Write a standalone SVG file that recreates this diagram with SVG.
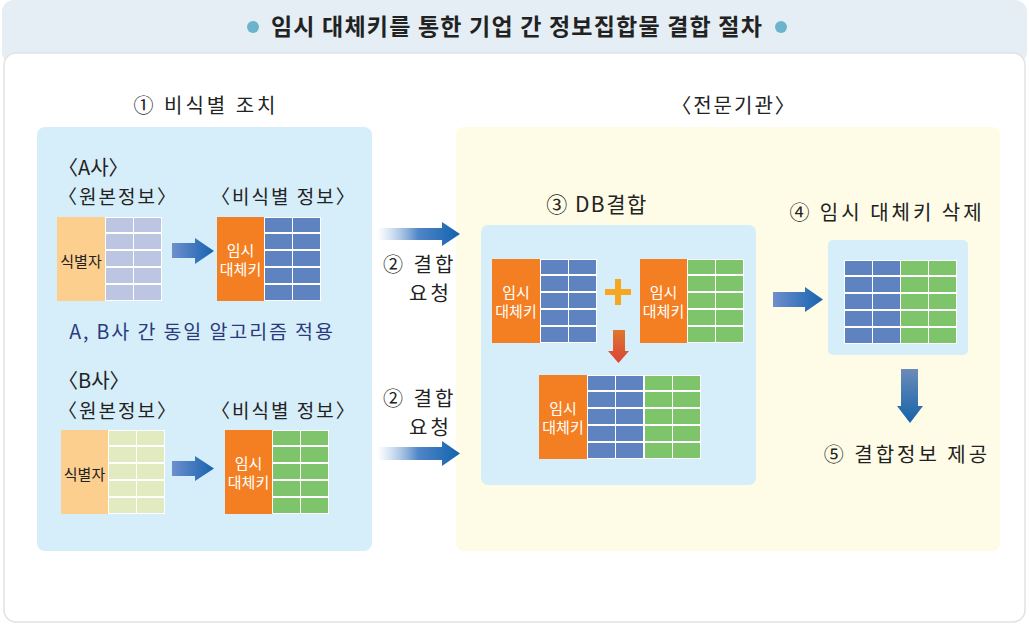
<svg xmlns="http://www.w3.org/2000/svg" xmlns:xlink="http://www.w3.org/1999/xlink" width="1029" height="624" viewBox="0 0 1029 624">
<style>
text{font-family:"Noto Sans CJK KR","Noto Sans",sans-serif;fill:#222}
.lbl{font-size:20px;letter-spacing:3px}
.sub{font-size:19px;letter-spacing:2px}
.key{font-size:15px;fill:#fff;text-anchor:middle}
.idt{font-size:15px;text-anchor:middle;fill:#222}
.orange{fill:#f47f23}
.ident{fill:#fccf8f}
</style>
<defs>
<g id="grid">
<rect width="57" height="84" fill="#fff"/>
<rect x="1" y="1" width="27" height="14"/><rect x="29" y="1" width="27" height="14"/>
<rect x="1" y="17" width="27" height="15"/><rect x="29" y="17" width="27" height="15"/>
<rect x="1" y="34" width="27" height="15"/><rect x="29" y="34" width="27" height="15"/>
<rect x="1" y="51" width="27" height="15"/><rect x="29" y="51" width="27" height="15"/>
<rect x="1" y="68" width="27" height="15"/><rect x="29" y="68" width="27" height="15"/>
</g>
<linearGradient id="gSmall" x1="0" y1="0" x2="1" y2="0"><stop offset="0" stop-color="#6f8fcc"/><stop offset="1" stop-color="#1563b0"/></linearGradient>
<linearGradient id="gBig" x1="0" y1="0" x2="1" y2="0"><stop offset="0" stop-color="#ffffff" stop-opacity="0.6"/><stop offset="0.5" stop-color="#4f86c6"/><stop offset="1" stop-color="#1262b0"/></linearGradient>
<linearGradient id="gDown" x1="0" y1="0" x2="0" y2="1"><stop offset="0" stop-color="#6c8bb9"/><stop offset="1" stop-color="#1563a8"/></linearGradient>
<linearGradient id="gRed" x1="0" y1="0" x2="0" y2="1"><stop offset="0" stop-color="#e0772c"/><stop offset="1" stop-color="#d9433a"/></linearGradient>
</defs>
<rect width="1029" height="624" fill="#ffffff"/>
<g id="header">
<rect x="2" y="0" width="1025" height="64" rx="12" fill="#e4eef4"/>
<rect x="4" y="53" width="1021" height="569" rx="12" fill="#ffffff" stroke="#e2e2e2" stroke-width="1.5"/>
<circle cx="253" cy="27" r="6" fill="#6cb4cc"/>
<circle cx="781" cy="27" r="6" fill="#6cb4cc"/>
<text x="517" y="35" text-anchor="middle" font-size="23" font-weight="bold" letter-spacing="1.2">임시 대체키를 통한 기업 간 정보집합물 결합 절차</text>
</g>
<g id="left-panel">
<rect x="37" y="127" width="335" height="424" rx="8" fill="#d6eef9"/>
<text class="lbl" x="206" y="113" text-anchor="middle">① 비식별 조치</text>
<text x="58" y="175" font-size="20">〈A사〉</text>
<text class="sub" x="58" y="204">〈원본정보〉</text>
<text class="sub" x="211" y="204">〈비식별 정보〉</text>
<text x="202" y="339" font-size="19.5" letter-spacing="1.9" text-anchor="middle" style="fill:#2b3a7d">A, B사 간 동일 알고리즘 적용</text>
<text x="58" y="388" font-size="20">〈B사〉</text>
<text class="sub" x="58" y="418">〈원본정보〉</text>
<text class="sub" x="211" y="418">〈비식별 정보〉</text>
</g>
<g id="tableA-original">
<rect class="ident" x="57" y="217" width="48" height="84"/>
<use href="#grid" x="105" y="217" fill="#bcc5e2"/>
<text class="idt" x="81" y="267">식별자</text>
</g>
<g id="tableA-deid">
<rect class="orange" x="217" y="217" width="47" height="84"/>
<use href="#grid" x="264" y="217" fill="#5f82c0"/>
<text class="key" x="240.5" y="256">임시</text>
<text class="key" x="240.5" y="275">대체키</text>
</g>
<g id="tableB-original">
<rect class="ident" x="61" y="430" width="47" height="84"/>
<use href="#grid" x="108" y="430" fill="#e2ebbf"/>
<text class="idt" x="84.5" y="480">식별자</text>
</g>
<g id="tableB-deid">
<rect class="orange" x="225" y="430" width="47" height="84"/>
<use href="#grid" x="272" y="430" fill="#7dc46a"/>
<text class="key" x="248.5" y="469">임시</text>
<text class="key" x="248.5" y="488">대체키</text>
</g>
<g id="expert-panel">
<rect x="456" y="127" width="544" height="424" rx="8" fill="#fefce6"/>
<text x="734" y="113" text-anchor="middle" font-size="20" letter-spacing="2">〈전문기관〉</text>
<text x="597" y="212" text-anchor="middle" font-size="21" letter-spacing="1.5">③ DB결합</text>
<rect x="481" y="225" width="275" height="260" rx="7" fill="#d6eef9"/>
</g>
<g id="db-left">
<rect class="orange" x="492" y="259" width="48" height="84"/>
<use href="#grid" x="540" y="259" fill="#5f82c0"/>
<text class="key" x="516" y="298">임시</text>
<text class="key" x="516" y="317">대체키</text>
</g>
<g id="db-right">
<rect class="orange" x="640" y="259" width="47" height="84"/>
<use href="#grid" x="687" y="259" fill="#7dc46a"/>
<text class="key" x="663.5" y="298">임시</text>
<text class="key" x="663.5" y="317">대체키</text>
</g>
<g id="plus">
<rect x="605" y="289" width="26" height="6" fill="#f5a623"/>
<rect x="615" y="279" width="6" height="26" fill="#f5a623"/>
</g>
<g id="db-combined">
<rect class="orange" x="539" y="375" width="48" height="84"/>
<use href="#grid" x="587" y="375" fill="#5f82c0"/>
<use href="#grid" x="644" y="375" fill="#7dc46a"/>
<text class="key" x="563" y="414">임시</text>
<text class="key" x="563" y="433">대체키</text>
</g>
<g id="step4">
<text class="lbl" x="887" y="220" text-anchor="middle">④ 임시 대체키 삭제</text>
<rect x="828" y="240" width="140" height="115" rx="5" fill="#d6eef9"/>
<use href="#grid" x="844" y="260" fill="#5f82c0"/>
<use href="#grid" x="900" y="260" fill="#7dc46a"/>
</g>
<g id="step5">
<text class="lbl" x="907" y="462" text-anchor="middle">⑤ 결합정보 제공</text>
</g>
<g id="request-labels">
<text class="lbl" x="383" y="272">② 결합</text>
<text class="lbl" x="409" y="301">요청</text>
<text class="lbl" x="383" y="406">② 결합</text>
<text class="lbl" x="409" y="435">요청</text>
</g>
<g id="connectors">
<polygon points="172,243 195,243 195,238 214,251 195,264 195,258 172,258" fill="url(#gSmall)"/>
<polygon points="172,461 195,461 195,456 214,468.5 195,481 195,476 172,476" fill="url(#gSmall)"/>
<polygon points="377,228 442,228 442,222 460,234 442,246 442,240 377,240" fill="url(#gBig)"/>
<polygon points="377,447 442,447 442,441 460,453.5 442,466 442,460 377,460" fill="url(#gBig)"/>
<polygon points="773,292 805,292 805,287 823,299.5 805,312 805,307 773,307" fill="url(#gSmall)"/>
<polygon points="613,330 625,330 625,351 629,351 618.5,363 608,351 613,351" fill="url(#gRed)"/>
<polygon points="901,369 918,369 918,406 923,406 910,423 897,406 901,406" fill="url(#gDown)"/>
</g>
</svg>
